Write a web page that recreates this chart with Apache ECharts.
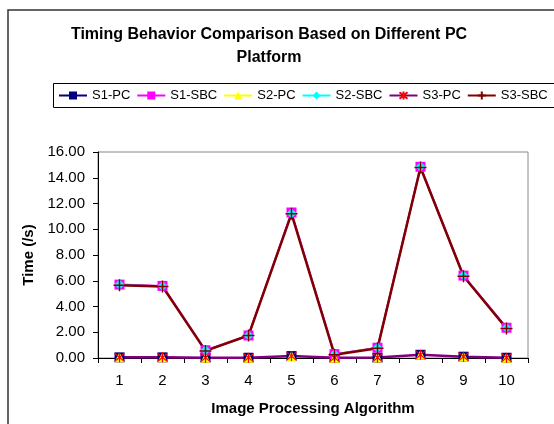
<!DOCTYPE html>
<html><head><meta charset="utf-8">
<script src="https://cdn.jsdelivr.net/npm/echarts@6/dist/echarts.min.js"></script>
<style>html,body{margin:0;padding:0;background:#fff}#c{width:554px;height:424px}</style>
</head><body><div id="c"></div>
<script>
const categories = ['1','2','3','4','5','6','7','8','9','10'];
const s1PC  = [0.05,0.05,0.02,0.02,0.15,0.02,0.03,0.25,0.10,0.02];
const s1SBC = [5.70,5.60,0.60,1.75,11.30,0.30,0.80,14.85,6.40,2.35];
const s2PC  = [0.05,0.05,0.02,0.02,0.15,0.02,0.03,0.25,0.10,0.02];
const s2SBC = [5.70,5.60,0.60,1.75,11.25,0.30,0.80,14.85,6.40,2.35];
const s3PC  = [0.05,0.05,0.02,0.02,0.15,0.02,0.03,0.25,0.10,0.02];
const s3SBC = [5.65,5.55,0.55,1.75,11.20,0.25,0.75,14.80,6.35,2.30];
const yTicks = {min:0, max:16, interval:2};

const F = 'Liberation Sans, Arial, sans-serif';
const chart = echarts.init(document.getElementById('c'), null, {renderer:'canvas'});
const star = 'path://M0,0L10,10M10,0L0,10M5,-1L5,11';
const plus = 'path://M5,0L5,10M0,5L10,5';
function mk(name, data, color, lw, symbol, ssize, mcolor, extra){
  return Object.assign({
    name, type:'line', data, symbol, symbolSize:ssize, showSymbol:true,
    lineStyle:{color, width:lw},
    itemStyle:{color:mcolor||color},
    emphasis:{disabled:true}, animation:false
  }, extra||{});
}
chart.setOption({
  animation:false,
  title:{text:'Timing Behavior Comparison Based on Different PC\nPlatform', left:269, textAlign:'center', top:23, padding:0,
    textStyle:{fontFamily:F, fontSize:16, fontWeight:'bold', color:'#000', lineHeight:23}},
  legend:{left:58, top:89, width:1000, itemWidth:28, itemHeight:10, itemGap:6, padding:0,
    textStyle:{fontFamily:F, fontSize:13, color:'#000'},
    data:['S1-PC','S1-SBC','S2-PC','S2-SBC','S3-PC','S3-SBC']},
  grid:{left:98, top:152, width:430, height:206, show:true, borderColor:'#888', borderWidth:1, containLabel:false},
  xAxis:{type:'category', data:categories, boundaryGap:true,
    name:'Image Processing Algorithm', nameLocation:'middle', nameGap:43,
    nameTextStyle:{fontFamily:F, fontSize:15, fontWeight:'bold', color:'#000'},
    axisLine:{lineStyle:{color:'#000', width:1}},
    axisTick:{show:true, length:5, lineStyle:{color:'#000'}, alignWithLabel:false},
    axisLabel:{fontFamily:F, fontSize:15, color:'#000', margin:15},
    splitLine:{show:false}},
  yAxis:{type:'value', min:yTicks.min, max:yTicks.max, interval:yTicks.interval,
    name:'Time (/s)', nameLocation:'middle', nameGap:58,
    nameTextStyle:{fontFamily:F, fontSize:15, fontWeight:'bold', color:'#000'},
    axisLine:{show:true, lineStyle:{color:'#000', width:1}},
    axisTick:{show:true, length:5, lineStyle:{color:'#000'}},
    axisLabel:{fontFamily:F, fontSize:15, color:'#000', margin:13, formatter:v=>v.toFixed(2)},
    splitLine:{show:false}},
  graphic:[
    {type:'rect', shape:{x:8, y:10, width:560, height:430}, style:{fill:null, stroke:'#333', lineWidth:1.5}, silent:true, z:-1},
    {type:'rect', shape:{x:53.5, y:83.5, width:520, height:24}, style:{fill:null, stroke:'#000', lineWidth:1}, silent:true, z:-1}
  ],
  series:[
    mk('S1-PC', s1PC, '#000080', 1, 'rect', 10),
    mk('S1-SBC', s1SBC, '#FF00FF', 2, 'rect', 10),
    mk('S2-PC', s2PC, '#FFFF00', 1, 'triangle', 10),
    mk('S2-SBC', s2SBC, '#00FFFF', 1, 'diamond', 10),
    mk('S3-PC', s3PC, '#800080', 2.5, star, 10, '#FF0000', {itemStyle:{color:'#FF0000', borderColor:'#FF0000', borderWidth:1.2}}),
    mk('S3-SBC', s3SBC, '#800000', 2.5, plus, 12, '#800000', {itemStyle:{color:'#800000', borderColor:'#800000', borderWidth:1.5}})
  ]
});
</script></body></html>
